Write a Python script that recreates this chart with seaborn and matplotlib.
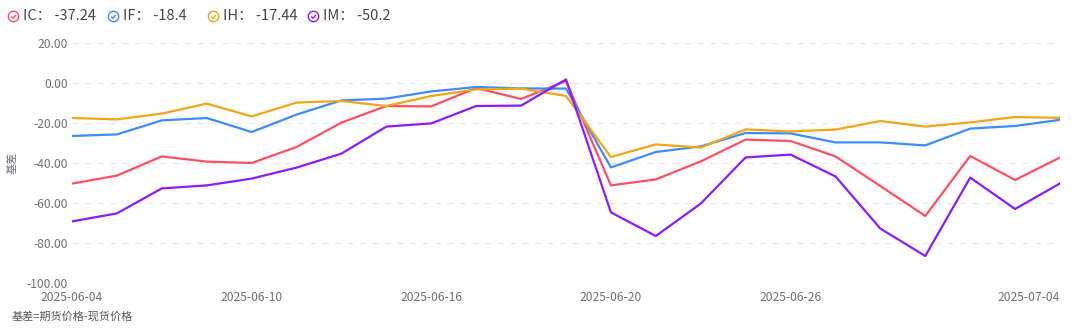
import numpy as np
import pandas as pd
import matplotlib
matplotlib.use("Agg")
import matplotlib.pyplot as plt
from matplotlib.path import Path
from matplotlib.lines import Line2D
import seaborn as sns

# Trading days
dates = ["2025-06-04", "2025-06-05", "2025-06-06", "2025-06-09", "2025-06-10",
         "2025-06-11", "2025-06-12", "2025-06-13", "2025-06-16", "2025-06-17",
         "2025-06-18", "2025-06-19", "2025-06-20", "2025-06-23", "2025-06-24",
         "2025-06-25", "2025-06-26", "2025-06-27", "2025-06-30", "2025-07-01",
         "2025-07-02", "2025-07-03", "2025-07-04"]

# Basis (futures minus spot) per contract
ic = [-50.3, -46.3, -36.7, -39.3, -40.0, -32.0, -19.8, -11.5, -11.7, -2.5, -8.0, 1.0,
      -51.2, -48.2, -39.2, -28.3, -29.0, -36.7, -51.5, -66.5, -36.5, -48.5, -37.24]
if_ = [-26.5, -25.7, -18.7, -17.5, -24.5, -15.8, -8.7, -7.8, -4.2, -2.0, -2.7, -2.8,
       -42.2, -34.5, -31.7, -25.0, -25.2, -29.7, -29.7, -31.2, -22.8, -21.5, -18.4]
ih = [-17.5, -18.2, -15.3, -10.3, -16.7, -9.8, -9.0, -11.5, -6.5, -3.2, -2.8, -6.5,
      -37.0, -30.7, -32.3, -23.2, -24.2, -23.3, -19.0, -21.8, -19.7, -17.0, -17.44]
im = [-69.2, -65.2, -52.7, -51.2, -47.8, -42.3, -35.3, -21.8, -20.2, -11.5, -11.3, 1.8,
      -64.7, -76.5, -60.3, -37.2, -35.8, -46.7, -72.8, -86.5, -47.3, -63.0, -50.2]

series_names = ["IC", "IF", "IH", "IM"]
series_values = [ic, if_, ih, im]
colors = ["#FF5062", "#3D8CFF", "#F2A516", "#8A1CFF"]

y_ticks = [20, 0, -20, -40, -60, -80, -100]
x_tick_idx = [0, 4, 8, 12, 16, 22]

df = pd.concat(
    [pd.DataFrame({"idx": np.arange(len(dates)), "value": v, "code": n})
     for n, v in zip(series_names, series_values)],
    ignore_index=True,
)

sns.set_theme(style="white")
plt.rcParams["font.family"] = ["Noto Sans CJK SC", "DejaVu Sans"]
plt.rcParams["axes.unicode_minus"] = False

W, H = 1071, 332
fig = plt.figure(figsize=(W / 100, H / 100), dpi=100)
ax = fig.add_axes([72 / W, 1 - 283 / H, (1060 - 72) / W, (283 - 43) / H])

sns.lineplot(data=df, x="idx", y="value", hue="code", palette=colors,
             hue_order=series_names, linewidth=1.6, legend=False, ax=ax,
             zorder=3)

ax.set_xlim(0, len(dates) - 1)
ax.set_ylim(-100, 20)
ax.set_yticks(y_ticks)
ax.set_yticklabels([f"{t:.2f}" for t in y_ticks])
ax.set_xticks(x_tick_idx)
ax.set_xticklabels([dates[i] for i in x_tick_idx])
xl = ax.get_xticklabels()
xl[-1].set_horizontalalignment("right")

ax.tick_params(axis="both", length=0, labelsize=8.7, colors="#6E7079")
ax.tick_params(axis="y", pad=3)
ax.tick_params(axis="x", pad=5.5)
for s in ax.spines.values():
    s.set_visible(False)
for t in y_ticks:
    ax.axhline(t, color="#E6E8EE", lw=0.9, ls=(0, (5, 5)), zorder=1)
ax.set_xlabel("")
ax.set_ylabel("")

fig.text(12 / W, 1 - 163 / H, "基差", rotation=90, ha="center", va="center",
         fontsize=8, color="#6E7079")
fig.text(12 / W, 1 - 316 / H, "基差=期货价格-现货价格", ha="left", va="center",
         fontsize=8, color="#555555")

# Circle-with-check legend icon
circ = Path.unit_circle()
check_verts = np.array([[-0.45, 0.0], [-0.1, -0.35], [0.45, 0.3]])
icon = Path(np.concatenate([circ.vertices, check_verts]),
            np.concatenate([circ.codes, [Path.MOVETO, Path.LINETO, Path.LINETO]]))

for i, (n, v, c) in enumerate(zip(series_names, series_values, colors)):
    x0 = 13 + 100 * i
    fig.add_artist(Line2D([x0 / W], [1 - 16 / H], marker=icon, markersize=7.5,
                          markerfacecolor="none", markeredgecolor=c,
                          markeredgewidth=1.0, linestyle="none",
                          transform=fig.transFigure))
    fig.text((x0 + 10) / W, 1 - 16 / H, f"{n}： {v[-1]:g}", ha="left", va="center",
             fontsize=10.5, color="#464646")

fig.savefig("out.png", dpi=100)
